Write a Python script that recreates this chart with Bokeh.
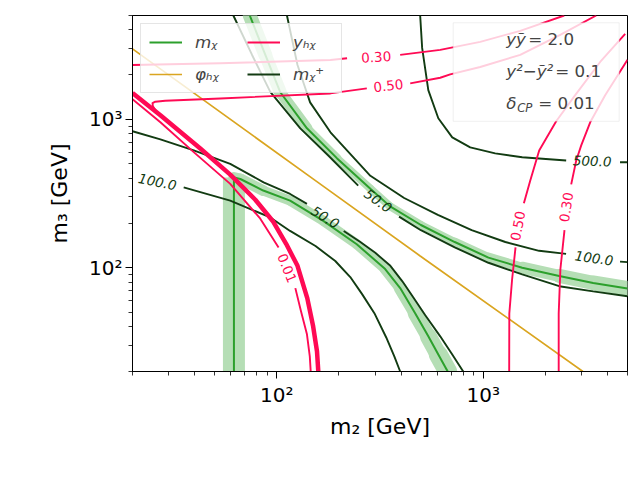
from bokeh.plotting import figure
from bokeh.models import (Range1d, FixedTicker, Legend, LegendItem, BoxAnnotation,
                          Label, ColumnDataSource)
from bokeh.core.properties import value
from bokeh.embed import file_html
from bokeh.resources import INLINE

# ---------------- data (m2, m3 in GeV) ----------------
# m_chi contours (green)
mchi_vert_m2 = [62, 62]
mchi_vert_m3 = [20, 405]
mchi_low_m2 = [62, 66.6, 86, 116, 168, 244, 335, 396, 468, 542, 606, 673]
mchi_low_m3 = [405, 396, 331, 283, 207, 144, 98, 73, 49.4, 34.5, 26, 20]
mchi_up_m2 = [74, 88, 104, 140, 196, 284, 354, 499, 728, 1060, 1545, 2335, 3410, 5000]
mchi_up_m3 = [5000, 2710, 1520, 869, 545, 341, 259, 194, 149, 117, 100, 88, 79, 72.5]

# m_chi+ contours (dark green), split where inline labels sit
c100_up_a_m2 = [112, 126, 145, 182, 284, 414, 603, 879, 1280, 1865, 2520]
c100_up_a_m3 = [5000, 2320, 1300, 817, 416, 295, 227, 179, 149, 130, 124]
c100_up_b_m2 = [4600, 5000]
c100_up_b_m3 = [110, 109]
c50_up_a_m2 = [61.6, 75.9, 93, 130, 177.6, 248]
c50_up_a_m3 = [5000, 2711, 1530, 869, 570, 357]
c50_up_b_m2 = [391, 499, 728, 1060, 1545, 2335, 3410, 5000]
c50_up_b_m3 = [221, 179, 137, 108, 90.2, 75.1, 69.3, 64.3]
c500_a_m2 = [495, 506, 542, 606, 708, 865, 1143, 1545, 2523]
c500_a_m3 = [5000, 3025, 1572, 1016, 755, 646, 589, 555, 527]
c500_b_m2 = [4600, 5000]
c500_b_m3 = [513, 513]
c100_low_m2 = [35.4, 59.5, 93, 116, 154, 192, 227, 259, 297, 339, 371, 396]
c100_low_m3 = [348, 283, 218, 177, 140, 111, 86.5, 66.4, 49.4, 33.9, 25.3, 20]
c50_low_a_m2 = [20, 27.3, 39.6, 59.5, 86.3, 116, 140]
c50_low_a_m3 = [830, 732, 617, 501, 376, 314, 269]
c50_low_b_m2 = [211, 254, 300, 355, 405, 458, 524, 619, 708, 800]
c50_low_b_m3 = [177, 149, 126, 103, 81.3, 63.3, 47.9, 34.5, 26, 20]

# phi_h chi (orange)
phi_m2 = [20, 154, 495, 3040]
phi_m3 = [2980, 386, 120, 20]

# y_h chi contours (pink)
y30_up_a_m2 = [20, 53.3, 182, 219]
y30_up_a_m3 = [2321, 2383, 2509, 2576]
y30_up_b_m2 = [396, 619, 967, 1511, 2468]
y30_up_b_m3 = [2713, 2933, 3322, 3943, 5000]
y50_up_a_m2 = [3526, 2360, 1511, 967, 692, 619, 443]
y50_up_a_m3 = [5000, 3704, 2713, 2250, 2008, 1904, 1744]
y50_up_b_m2 = [273, 182, 53.3, 28.8, 25.8, 25.0, 25.1, 26.1]
y50_up_b_m3 = [1614, 1493, 1381, 1334, 1313, 1283, 1225, 1133]
yband_m2 = [20, 27.3, 42.6, 59.5, 78.7, 96.2, 111, 126, 140.5, 150, 156.6, 158.9]
yband_m3 = [1500, 1065, 636, 424, 287, 204, 145, 103, 62.4, 40.3, 27.3, 20]
y01_a_m2 = [20, 27.3, 39.6, 59.5, 83.2, 102]
y01_a_m3 = [1366, 954, 601, 367, 214, 137]
y01_b_m2 = [123, 131, 140, 144.5, 146]
y01_b_m3 = [72.9, 50.9, 35.6, 25.3, 20]
y50_r_a_m2 = [1336, 1338, 1380, 1434]
y50_r_a_m3 = [20, 49.2, 83.3, 137]
y50_r_b_m2 = [1574, 1689, 1867, 2257, 2790, 3686, 4872]
y50_r_b_m3 = [272, 386, 617, 969, 1453, 2432, 3763]
y30_r_a_m2 = [2321, 2321, 2365, 2476]
y30_r_a_m3 = [20, 49.2, 97.7, 179]
y30_r_b_m2 = [2668, 2822, 2984, 3298, 3897, 5000]
y30_r_b_m3 = [364, 528, 667, 954, 1453, 2512]

# inline contour labels
dlab_m2 = [3447, 310, 3371, 26.4, 172]
dlab_m3 = [116.3, 283, 524, 380, 219]
dlab_txt = ["100.0", "50.0", "500.0", "100.0", "50.0"]
plab_m2 = [303, 347, 112.4, 1469, 2523]
plab_m3 = [2629, 1686, 99.5, 191.5, 256]
plab_txt = ["0.30", "0.50", "0.01", "0.50", "0.30"]

# tick labels
tick_vals = [100, 1000]
tick_text = ["10²", "10³"]
minor_vals = [20, 30, 40, 50, 60, 70, 80, 90, 200, 300, 400, 500, 600, 700, 800, 900,
              2000, 3000, 4000, 5000]

# parameter box
par_txt = ["yỹ", "y²−ỹ²", "δ"]
par_val = ["= 2.0", "= 0.1", "= 0.01"]

# ---------------- styles ----------------
GREEN = "#2ca02c"
BAND = "#b5deb5"
DARK = "#123b12"
PINK = "#ff0a54"
ORANGE = "#daa520"
FONT = "DejaVu Sans"
dlab_ang = [-0.14, -0.62, -0.04, -0.2, -0.55]
plab_ang = [0.06, 0.11, -1.18, 1.38, 1.42]
w_low = [11, 11, 10, 10, 10, 10, 11, 13, 15, 17, 19]
w_up = [14, 13, 11, 9, 8, 8, 8, 8, 9, 10, 12, 14, 15]

p = figure(width=640, height=480, x_axis_type="log", y_axis_type="log",
           x_range=Range1d(20, 5000), y_range=Range1d(20, 5000),
           output_backend="svg", toolbar_location=None,
           min_border_left=132, min_border_right=13, min_border_top=15,
           min_border_bottom=109)
p.grid.visible = False
p.outline_line_color = "black"
p.outline_line_alpha = 1
p.outline_line_width = 1
p.background_fill_color = "white"
p.border_fill_color = "white"


def seg_band(xs, ys, widths):
    sx, sy = [], []
    for i in range(len(xs) - 1):
        sx.append([xs[i], xs[i + 1]])
        sy.append([ys[i], ys[i + 1]])
    return ColumnDataSource(dict(xs=sx, ys=sy, w=widths))


# bands
p.line(mchi_vert_m2, mchi_vert_m3, line_color=BAND, line_width=22)
p.multi_line("xs", "ys", source=seg_band(mchi_low_m2, mchi_low_m3, w_low),
             line_color=BAND, line_width="w", line_cap="round", line_join="round")
p.multi_line("xs", "ys", source=seg_band(mchi_up_m2, mchi_up_m3, w_up),
             line_color=BAND, line_width="w", line_cap="round", line_join="round")

# green lines
r_green = p.line(mchi_vert_m2, mchi_vert_m3, line_color=GREEN, line_width=2)
p.line(mchi_low_m2, mchi_low_m3, line_color=GREEN, line_width=2)
p.line(mchi_up_m2, mchi_up_m3, line_color=GREEN, line_width=2)

# dark green lines
r_dark = None
for xs, ys in [(c100_up_a_m2, c100_up_a_m3), (c100_up_b_m2, c100_up_b_m3),
               (c50_up_a_m2, c50_up_a_m3), (c50_up_b_m2, c50_up_b_m3),
               (c500_a_m2, c500_a_m3), (c500_b_m2, c500_b_m3),
               (c100_low_m2, c100_low_m3),
               (c50_low_a_m2, c50_low_a_m3), (c50_low_b_m2, c50_low_b_m3)]:
    r = p.line(xs, ys, line_color=DARK, line_width=1.9)
    if r_dark is None:
        r_dark = r

# orange
r_orange = p.line(phi_m2, phi_m3, line_color=ORANGE, line_width=1.7)

# pink
r_pink = None
for xs, ys in [(y30_up_a_m2, y30_up_a_m3), (y30_up_b_m2, y30_up_b_m3),
               (y50_up_a_m2, y50_up_a_m3), (y50_up_b_m2, y50_up_b_m3),
               (y01_a_m2, y01_a_m3), (y01_b_m2, y01_b_m3),
               (y50_r_a_m2, y50_r_a_m3), (y50_r_b_m2, y50_r_b_m3),
               (y30_r_a_m2, y30_r_a_m3), (y30_r_b_m2, y30_r_b_m3)]:
    r = p.line(xs, ys, line_color=PINK, line_width=1.9, line_join="round")
    if r_pink is None:
        r_pink = r
p.line(yband_m2, yband_m3, line_color=PINK, line_width=4.5, line_join="round")

# inline labels
p.text(x=dlab_m2, y=dlab_m3, text=dlab_txt, angle=dlab_ang, text_color=DARK,
       text_font=value(FONT), text_font_size="13.5px", text_font_style="italic",
       text_align="center", text_baseline="middle")
p.text(x=plab_m2, y=plab_m3, text=plab_txt, angle=plab_ang, text_color=PINK,
       text_font=value(FONT), text_font_size="13.5px",
       text_align="center", text_baseline="middle")

# axes
for ax in (p.xaxis[0], p.yaxis[0]):
    ax.ticker = FixedTicker(ticks=tick_vals, minor_ticks=minor_vals)
    ax.major_label_overrides = {v: t for v, t in zip(tick_vals, tick_text)}
    ax.major_label_text_font = FONT
    ax.major_label_text_font_size = "20px"
    ax.major_label_text_color = "black"
    ax.axis_label_text_font = FONT
    ax.axis_label_text_font_size = "22px"
    ax.axis_label_text_font_style = "normal"
    ax.axis_label_text_color = "black"
    ax.axis_line_color = "black"
    ax.major_tick_line_color = "black"
    ax.minor_tick_line_color = "black"
    ax.major_tick_out = 7
    ax.major_tick_in = 0
    ax.minor_tick_out = 4
    ax.minor_tick_in = 0
    ax.minor_tick_line_width = 0.8
p.xaxis.axis_label = "m₂ [GeV]"
p.yaxis.axis_label = "m₃ [GeV]"
p.xaxis.major_label_standoff = 4
p.xaxis.axis_label_standoff = 4
p.yaxis.major_label_standoff = 3
p.yaxis.axis_label_standoff = 14

# legend
legend = Legend(items=[LegendItem(label="mᵪ", renderers=[r_green]),
                       LegendItem(label="φₕᵪ", renderers=[r_orange]),
                       LegendItem(label="yₕᵪ", renderers=[r_pink]),
                       LegendItem(label="mᵪ⁺", renderers=[r_dark])],
                location="top_left", ncols=2, margin=8, padding=8,
                spacing=12, glyph_width=33, glyph_height=20, label_height=20,
                label_width=40, label_standoff=13,
                label_text_font=FONT, label_text_font_size="16.7px",
                label_text_font_style="italic",
                background_fill_color="white", background_fill_alpha=0.8,
                border_line_color="#cccccc", border_line_width=1)
p.add_layout(legend)

# parameter box
box = BoxAnnotation(left=715.5, right=4556, bottom=969, top=4467,
                    fill_color="white", fill_alpha=0.8,
                    line_color="#cccccc", line_width=1)
p.add_layout(box)
row_m3 = [3453, 2113, 1283]
txt_m2 = 1292
val_off = [22, 49, 32]
for t, v, yy, off in zip(par_txt, par_val, row_m3, val_off):
    p.add_layout(Label(x=txt_m2, y=yy, text=t, text_font=FONT, text_font_size="16.7px",
                       text_font_style="italic", text_baseline="middle"))
    p.add_layout(Label(x=txt_m2, y=yy, x_offset=off, text=v, text_font=FONT,
                       text_font_size="16.7px", text_baseline="middle"))
p.add_layout(Label(x=txt_m2, y=row_m3[2], x_offset=11, y_offset=-5, text="CP",
                   text_font=FONT, text_font_size="11.7px", text_font_style="italic",
                   text_baseline="middle"))

open("out.html", "w").write(file_html(p, INLINE))
